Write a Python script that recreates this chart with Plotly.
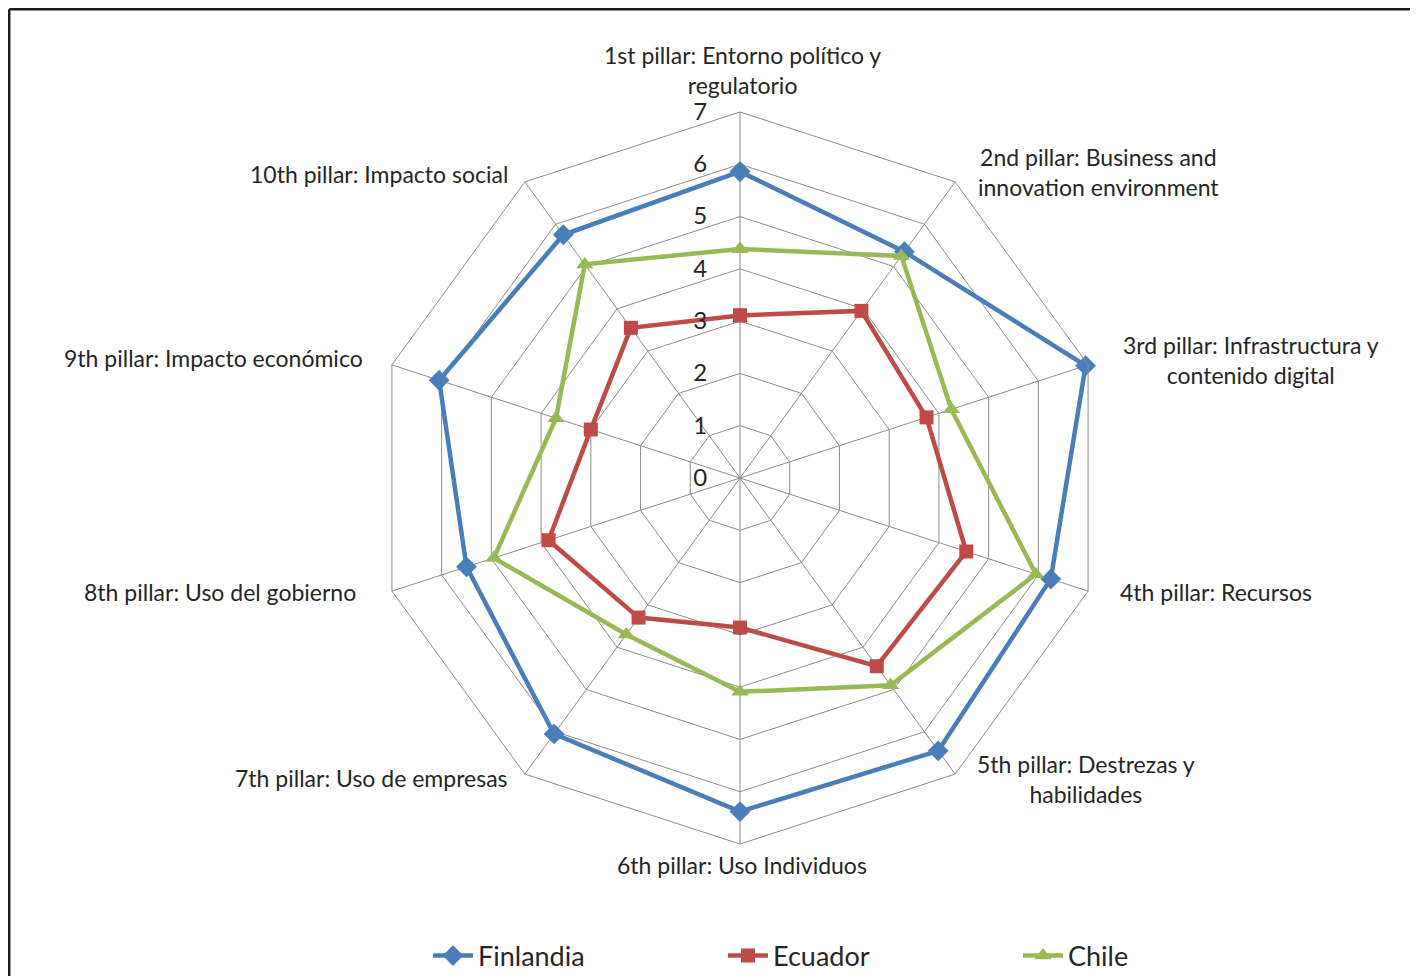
import plotly.graph_objects as go

# pillar labels (clockwise from top)
pillars = [
    "1st pillar: Entorno político y<br>regulatorio",
    "2nd pillar: Business and<br>innovation environment",
    "3rd pillar: Infrastructura y<br>contenido digital",
    "4th pillar: Recursos",
    "5th pillar: Destrezas y<br>habilidades",
    "6th pillar: Uso Individuos",
    "7th pillar: Uso de empresas",
    "8th pillar: Uso del gobierno",
    "9th pillar: Impacto económico",
    "10th pillar: Impacto social",
]

finlandia = [5.86, 5.35, 6.95, 6.25, 6.45, 6.38, 6.05, 5.5, 6.05, 5.75]
ecuador = [3.11, 3.95, 3.75, 4.55, 4.45, 2.86, 3.3, 3.85, 3.0, 3.55]
chile = [4.38, 5.25, 4.25, 5.95, 4.9, 4.09, 3.7, 4.95, 3.7, 5.05]

radial_ticks = [0, 1, 2, 3, 4, 5, 6, 7]

W, H = 1418, 976
OFF = 8  # page body margin, positions below are in screen pixels
cx, cy, R = 740, 478, 366
FONT = "Lato, 'Open Sans', sans-serif"


def px(x):
    return (x - OFF) / W


def py(y):
    return 1 - (y - OFF) / H


series = [
    ("Finlandia", finlandia, "#4A7EBB", "diamond", 16),
    ("Ecuador", ecuador, "#BE4B48", "square", 14),
    ("Chile", chile, "#98B954", "triangle-up", 15),
]

fig = go.Figure()
for name, vals, color, sym, size in series:
    fig.add_trace(go.Scatterpolar(
        r=vals + vals[:1],
        theta=pillars + pillars[:1],
        mode="lines+markers",
        name=name,
        line=dict(color=color, width=4.5),
        marker=dict(symbol=sym, size=size, color=color),
    ))

# label positions (pixels) and alignment, one per pillar
label_pos = [
    (742, 70, "center"), (1098, 172, "center"), (1251, 360, "center"),
    (1118, 592, "left"), (1086, 779, "center"), (742, 865, "center"),
    (510, 778, "right"), (358, 592, "right"), (365, 358, "right"),
    (510, 174, "right"),
]
for text, (lx, ly, al) in zip(pillars, label_pos):
    fig.add_annotation(
        x=px(lx), y=py(ly), xref="paper", yref="paper",
        text=text, showarrow=False, align=al, xanchor=al,
        yanchor="middle", font=dict(size=23, color="#262626", family=FONT),
    )

fig.update_layout(
    width=W, height=H,
    margin=dict(l=0, r=0, t=0, b=0),
    paper_bgcolor="white",
    font=dict(family=FONT, color="#262626"),
    polar=dict(
        domain=dict(x=[px(cx - R), px(cx + R)], y=[py(cy + R), py(cy - R)]),
        bgcolor="white",
        gridshape="linear",
        radialaxis=dict(
            range=[0, 7], tickvals=radial_ticks, angle=90, tickangle=90,
            side="counterclockwise",
            showline=False, gridcolor="#8c8c8c", gridwidth=1,
            tickfont=dict(size=24, color="#262626", family=FONT),
            ticks="outside", ticklen=24, tickcolor="rgba(0,0,0,0)",
        ),
        angularaxis=dict(
            rotation=90, direction="clockwise",
            showticklabels=False, ticks="",
            gridcolor="#8c8c8c", gridwidth=1,
            linecolor="#8c8c8c", linewidth=1,
        ),
    ),
    legend=dict(
        orientation="h", x=px(428), y=py(956), xanchor="left", yanchor="middle",
        font=dict(size=27, color="#262626", family=FONT),
        entrywidth=240, entrywidthmode="pixels",
        itemwidth=40,
    ),
    showlegend=True,
    shapes=[
        dict(type="line", xref="paper", yref="paper", x0=1.2 / W, x1=1, y0=1 - 1.2 / H, y1=1 - 1.2 / H,
             line=dict(color="#1a1a1a", width=2.5)),
        dict(type="line", xref="paper", yref="paper", x0=1.2 / W, x1=1.2 / W, y0=0, y1=1 - 1.2 / H,
             line=dict(color="#1a1a1a", width=2.5)),
    ],
)

fig.write_html("out.html")
